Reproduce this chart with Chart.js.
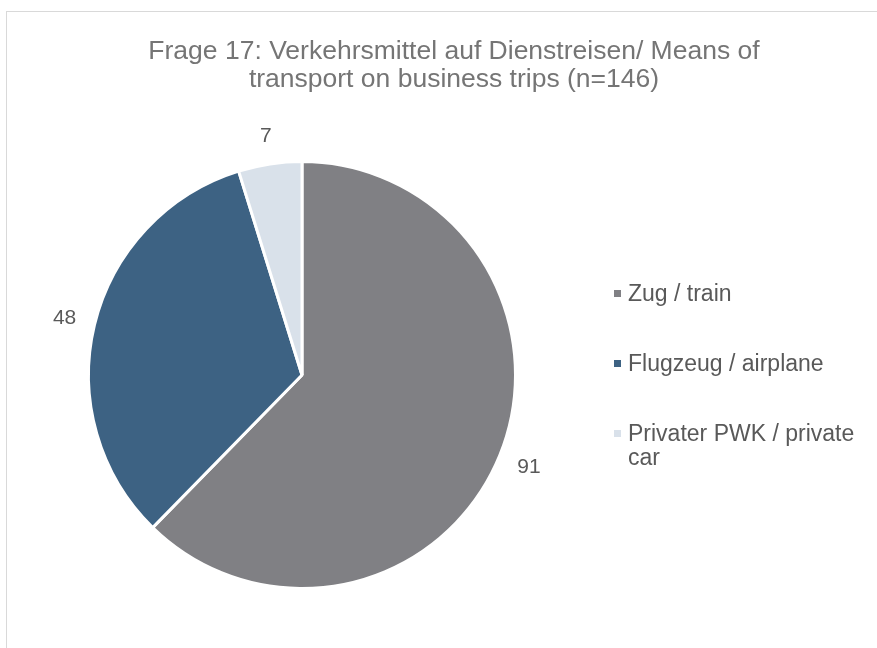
<!DOCTYPE html>
<html>
<head>
<meta charset="utf-8">
<script src="https://cdn.jsdelivr.net/npm/chart.js@4.4.1/dist/chart.umd.min.js"></script>
<style>
    body { margin: 0; width: 877px; height: 648px; overflow: hidden; background: #fff; font-family: "Liberation Sans", Arial, sans-serif; }
    #frame { position: absolute; left: 6px; top: 11px; width: 900px; height: 700px; border: 1.5px solid #d9d9d9; }
    #title { position: absolute; left: 54px; width: 800px; top: 36px; text-align: center; font-size: 26.5px; line-height: 28px; color: #757575; }
    #legend { position: absolute; left: 612px; top: 281px; width: 250px; }
    .item { position: relative; padding-left: 16px; font-size: 23px; line-height: 24px; color: #595959; margin-bottom: 46px; }
    .item span.box { position: absolute; left: 2px; top: 9px; width: 7px; height: 7px; }
    #wrap { position: absolute; left: 0; top: 0; width: 877px; height: 648px; }
</style>
</head>
<body>
<div id="frame"></div>
<div id="wrap"><canvas id="pie"></canvas></div>
<div id="title">Frage 17: Verkehrsmittel auf Dienstreisen/ Means of<br>transport on business trips (n=146)</div>
<div id="legend"></div>
<script>
    const categories = ["Zug / train", "Flugzeug / airplane", "Privater PWK / private car"];
    const counts = [91, 48, 7];
    const colors = ["#808084", "#3d6283", "#d9e1ea"];

    // legend built from the same arrays
    const legendEl = document.getElementById("legend");
    categories.forEach((name, i) => {
        const item = document.createElement("div");
        item.className = "item";
        item.innerHTML = '<span class="box" style="background:' + colors[i] + '"></span>' + name;
        legendEl.appendChild(item);
    });

    // value labels outside each slice
    const outsideLabels = {
        id: "outsideLabels",
        afterDatasetsDraw(chart) {
            const ctx = chart.ctx;
            const meta = chart.getDatasetMeta(0);
            ctx.save();
            ctx.font = "21px 'Liberation Sans', Arial, sans-serif";
            ctx.fillStyle = "#595959";
            ctx.textAlign = "center";
            ctx.textBaseline = "middle";
            meta.data.forEach((arc, i) => {
                const p = arc.getProps(["x", "y", "startAngle", "endAngle", "outerRadius"], true);
                const mid = (p.startAngle + p.endAngle) / 2;
                const text = String(counts[i]);
                const hw = ctx.measureText(text).width / 2;
                const hh = 10;
                const cos = Math.cos(mid), sin = Math.sin(mid);
                const r = p.outerRadius + 17 + Math.abs(cos) * hw + Math.abs(sin) * hh;
                ctx.fillText(text, p.x + cos * r, p.y + sin * r);
            });
            ctx.restore();
        }
    };

    new Chart(document.getElementById("pie"), {
        type: "pie",
        data: {
            labels: categories,
            datasets: [
                {
                    data: counts,
                    backgroundColor: colors,
                    borderColor: "#ffffff",
                    borderWidth: 3,
                    hoverOffset: 0,
                },
            ],
        },
        options: {
            responsive: true,
            maintainAspectRatio: false,
            animation: false,
            layout: {
                padding: { left: 87, right: 360, top: 160, bottom: 58 },
            },
            plugins: {
                legend: { display: false },
                title: { display: false },
                tooltip: { enabled: false },
            },
        },
        plugins: [outsideLabels],
    });
</script>
</body>
</html>
